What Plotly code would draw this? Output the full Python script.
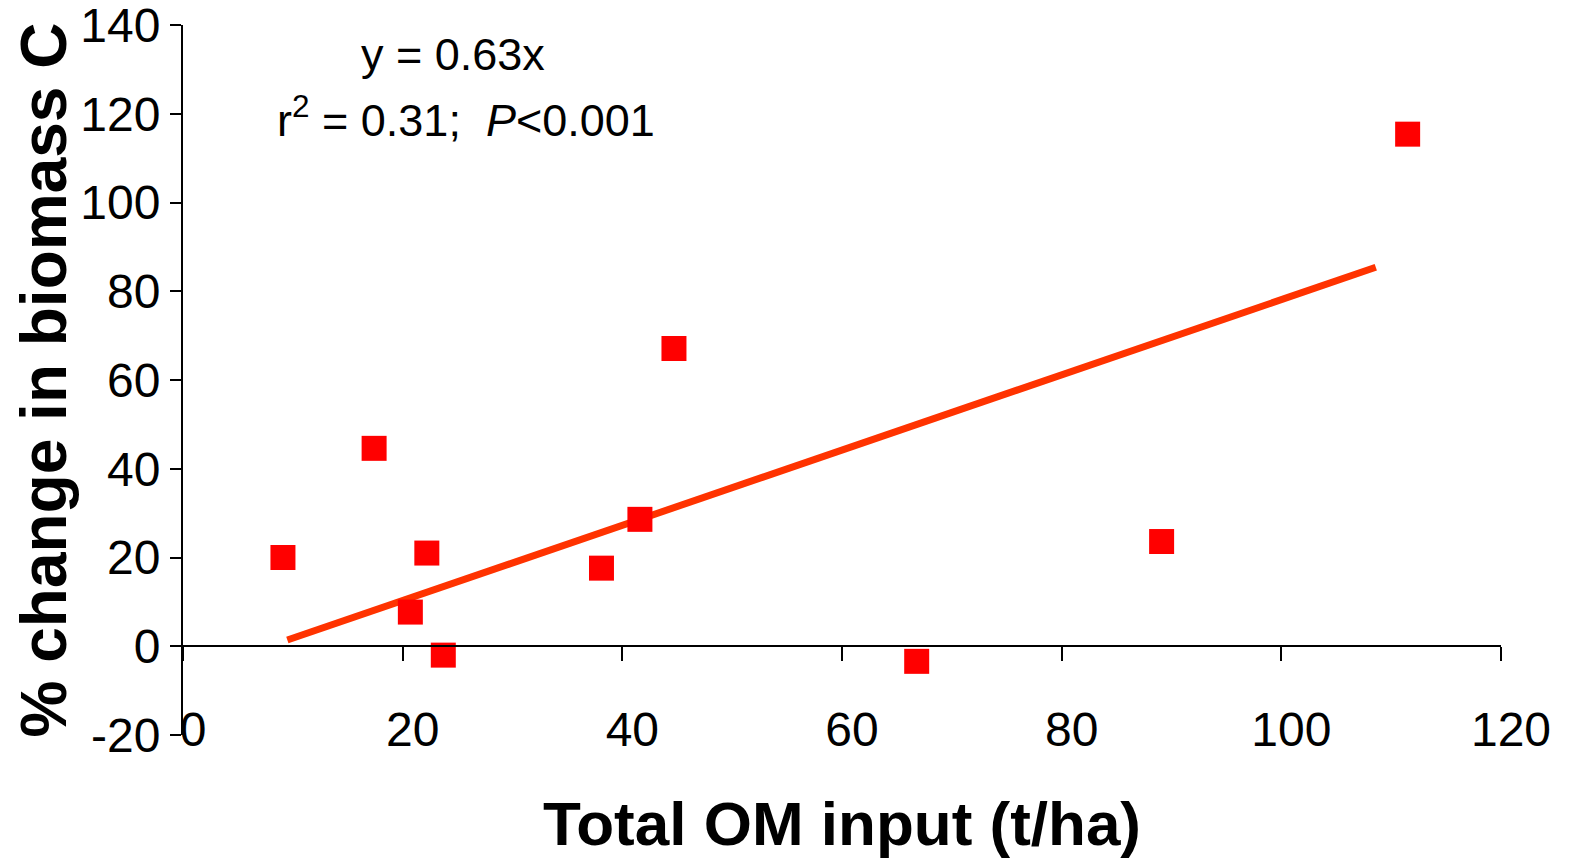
import plotly.graph_objects as go

# Data
om_input = [9.1, 17.4, 20.7, 22.2, 23.7, 38.1, 41.6, 44.7, 66.8, 89.1, 111.5]
biomass_change = [20.0, 44.6, 7.7, 21.0, -2.0, 17.6, 28.6, 67.1, -3.4, 23.6, 115.4]

trend_x = [9.5, 108.6]
trend_y = [1.4, 85.4]

x_ticks = [0, 20, 40, 60, 80, 100, 120]
y_ticks = [-20, 0, 20, 40, 60, 80, 100, 120, 140]

FONT = "Liberation Sans, Arial, sans-serif"

fig = go.Figure()
fig.add_trace(go.Scatter(
    x=trend_x, y=trend_y, mode="lines",
    line=dict(color="#FF3300", width=7),
    showlegend=False, hoverinfo="skip",
))
fig.add_trace(go.Scatter(
    x=om_input, y=biomass_change, mode="markers",
    marker=dict(symbol="square", size=25, color="#FF0000", line=dict(width=0)),
    showlegend=False,
))
# invisible trace to carry the secondary x axis drawn at y = 0
fig.add_trace(go.Scatter(
    x=[x_ticks[0]], y=[0], xaxis="x2", yaxis="y", mode="markers",
    marker=dict(opacity=0), showlegend=False, hoverinfo="skip",
))

fig.update_layout(
    width=1565, height=850,
    margin=dict(l=175, r=72, t=17, b=123),
    paper_bgcolor="white", plot_bgcolor="white",
    font=dict(family=FONT, color="black"),
    xaxis=dict(
        range=[0, 120], tickvals=x_ticks, ticktext=[str(v) for v in x_ticks],
        showline=False, ticks="", showgrid=False, zeroline=False,
        automargin=False,
        tickfont=dict(size=48, family=FONT),
        ticklabelstandoff=-38, ticklabelshift=10, ticklabeloverflow="allow",
        title=dict(text="<b>Total OM input (t/ha)</b>",
                   font=dict(size=62, family=FONT), standoff=58),
    ),
    xaxis2=dict(
        range=[0, 120], tickvals=x_ticks, overlaying="x", matches="x",
        anchor="free", position=(0 - y_ticks[0]) / (y_ticks[-1] - y_ticks[0]),
        side="bottom", automargin=False,
        showline=True, linecolor="black", linewidth=2,
        ticks="outside", ticklen=14, tickwidth=2, tickcolor="black",
        showticklabels=False, showgrid=False, zeroline=False,
    ),
    yaxis=dict(
        range=[-20, 140], tickvals=y_ticks, ticktext=[str(v) for v in y_ticks],
        showline=True, linecolor="black", linewidth=2,
        ticks="outside", ticklen=11, tickwidth=2, tickcolor="black",
        showgrid=False, zeroline=False, automargin=False,
        ticklabeloverflow="allow",
        tickfont=dict(size=48, family=FONT),
        title=dict(text="<b>% change in biomass C</b>",
                   font=dict(size=64, family=FONT), standoff=5),
    ),
    annotations=[
        dict(x=0.205, y=0.958, xref="paper", yref="paper",
             text="y = 0.63x", showarrow=False,
             font=dict(size=45, family=FONT), xanchor="center", yanchor="middle"),
        dict(x=0.215, y=0.871, xref="paper", yref="paper",
             text="r<sup>2</sup> = 0.31;  <i>P</i><0.001", showarrow=False,
             font=dict(size=45, family=FONT), xanchor="center", yanchor="middle"),
    ],
)

fig.write_html("out.html")
